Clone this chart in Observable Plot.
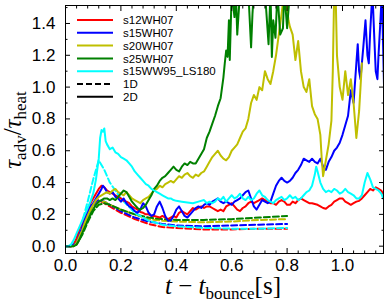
<!DOCTYPE html>
<html><head><meta charset="utf-8">
<script src="https://cdn.jsdelivr.net/npm/d3@7"></script>
<script src="https://cdn.jsdelivr.net/npm/@observablehq/plot@0.6"></script>
<style>body{margin:0;background:#fff}#chart{width:390px;height:307px}</style>
</head><body><div id="chart"></div>
<script>
// ---- data ----
const seriesNames = ["s12WH07","s15WH07","s20WH07","s25WH07","s15WW95_LS180"];
const seriesColors = ["#ff0000","#0000ff","#bfbf00","#008000","#00ffff"];
const dimLabels = ["1D","2D"];

// 1D (dashed) runs, shared time grid
const t1D = [0,0.02,0.04,0.06,0.08,0.10,0.12,0.14,0.16,0.20,0.25,0.30,0.35,0.40,0.50,0.60,0.70,0.80];
const s12WH07_1D = [0,0,0.03,0.12,0.20,0.26,0.29,0.27,0.25,0.21,0.17,0.14,0.12,0.115,0.105,0.105,0.11,0.11];
const s15WH07_1D = [0,0,0.02,0.10,0.18,0.25,0.29,0.28,0.26,0.22,0.18,0.155,0.14,0.13,0.125,0.13,0.135,0.14];
const s20WH07_1D = [0,0,0.02,0.09,0.17,0.24,0.28,0.28,0.26,0.23,0.20,0.17,0.16,0.155,0.15,0.155,0.165,0.17];
const s25WH07_1D = [0,0,0.01,0.07,0.15,0.22,0.26,0.27,0.26,0.23,0.20,0.18,0.17,0.165,0.165,0.17,0.18,0.19];
const s15WW95_1D = [0,0,0.04,0.15,0.28,0.42,0.54,0.48,0.40,0.30,0.21,0.16,0.135,0.125,0.115,0.11,0.11,0.115];

// 2D (solid) runs: [t, tau_adv/tau_heat]
const s12WH07_2D = [[0,0],[0.02,0],[0.03,0.01],[0.04,0.05],[0.05,0.11],[0.06,0.14],[0.07,0.19],[0.08,0.23],[0.09,0.27],[0.10,0.30],[0.11,0.33],[0.12,0.36],[0.13,0.38],[0.14,0.37],[0.15,0.35],[0.16,0.34],[0.17,0.33],[0.18,0.32],[0.19,0.31],[0.20,0.30],[0.21,0.285],[0.22,0.28],[0.23,0.27],[0.24,0.25],[0.25,0.24],[0.26,0.23],[0.27,0.215],[0.28,0.21],[0.29,0.20],[0.30,0.20],[0.31,0.19],[0.32,0.19],[0.33,0.185],[0.34,0.18],[0.35,0.19],[0.36,0.18],[0.37,0.17],[0.38,0.18],[0.39,0.19],[0.40,0.18],[0.41,0.21],[0.42,0.22],[0.43,0.21],[0.44,0.20],[0.45,0.22],[0.46,0.24],[0.47,0.23],[0.48,0.24],[0.49,0.25],[0.50,0.24],[0.51,0.25],[0.52,0.25],[0.53,0.24],[0.54,0.23],[0.55,0.22],[0.56,0.23],[0.57,0.22],[0.58,0.25],[0.59,0.26],[0.60,0.27],[0.61,0.25],[0.62,0.23],[0.63,0.22],[0.64,0.24],[0.65,0.25],[0.66,0.27],[0.67,0.28],[0.68,0.27],[0.69,0.28],[0.70,0.29],[0.71,0.30],[0.72,0.29],[0.73,0.28],[0.74,0.27],[0.75,0.27],[0.76,0.26],[0.77,0.28],[0.78,0.29],[0.79,0.28],[0.80,0.26],[0.81,0.26],[0.82,0.28],[0.83,0.27],[0.84,0.29],[0.85,0.30],[0.86,0.29],[0.87,0.28],[0.88,0.27],[0.89,0.27],[0.90,0.265],[0.91,0.26],[0.92,0.25],[0.93,0.24],[0.94,0.235],[0.95,0.25],[0.96,0.26],[0.97,0.28],[0.98,0.29],[0.99,0.30],[1.00,0.30],[1.01,0.28],[1.02,0.27],[1.03,0.26],[1.04,0.27],[1.05,0.28],[1.06,0.285],[1.07,0.30],[1.08,0.32],[1.09,0.34],[1.10,0.36],[1.11,0.35],[1.12,0.37],[1.13,0.36],[1.14,0.35],[1.15,0.32]];
const s15WH07_2D = [[0,0],[0.02,0],[0.04,0.02],[0.05,0.07],[0.06,0.12],[0.07,0.17],[0.08,0.21],[0.09,0.25],[0.10,0.27],[0.11,0.30],[0.12,0.33],[0.13,0.36],[0.135,0.38],[0.14,0.37],[0.15,0.34],[0.16,0.33],[0.17,0.34],[0.18,0.31],[0.19,0.30],[0.20,0.28],[0.21,0.30],[0.22,0.27],[0.23,0.25],[0.24,0.24],[0.25,0.22],[0.26,0.21],[0.27,0.23],[0.28,0.27],[0.29,0.25],[0.30,0.21],[0.31,0.19],[0.32,0.20],[0.33,0.25],[0.34,0.28],[0.35,0.24],[0.36,0.19],[0.37,0.16],[0.38,0.16],[0.39,0.19],[0.40,0.23],[0.41,0.25],[0.42,0.22],[0.43,0.19],[0.44,0.18],[0.45,0.20],[0.46,0.22],[0.47,0.24],[0.48,0.25],[0.49,0.24],[0.50,0.26],[0.51,0.27],[0.52,0.26],[0.53,0.28],[0.54,0.29],[0.55,0.30],[0.56,0.28],[0.57,0.27],[0.58,0.28],[0.59,0.27],[0.60,0.26],[0.61,0.28],[0.62,0.29],[0.63,0.30],[0.64,0.32],[0.65,0.34],[0.66,0.35],[0.67,0.30],[0.68,0.25],[0.69,0.23],[0.70,0.26],[0.71,0.29],[0.72,0.28],[0.73,0.27],[0.74,0.28],[0.75,0.33],[0.76,0.38],[0.77,0.41],[0.78,0.43],[0.79,0.41],[0.80,0.40],[0.81,0.41],[0.82,0.43],[0.83,0.46],[0.84,0.48],[0.85,0.51],[0.86,0.55],[0.87,0.54],[0.88,0.53],[0.89,0.55],[0.90,0.53],[0.91,0.52],[0.92,0.55],[0.93,0.50],[0.94,0.48],[0.95,0.53],[0.96,0.56],[0.97,0.60],[0.98,0.62],[0.99,0.65],[1.00,0.70],[1.01,0.76],[1.02,0.82],[1.03,0.98],[1.04,0.90],[1.05,1.15],[1.055,1.27],[1.06,1.10],[1.065,1.05],[1.075,1.25],[1.083,1.42],[1.09,1.20],[1.095,1.15],[1.10,1.35],[1.108,1.60],[1.115,1.30],[1.12,1.10],[1.126,1.05],[1.13,1.20],[1.137,1.42],[1.142,1.60],[1.146,1.30],[1.15,1.00]];
const s20WH07_2D = [[0,0],[0.03,0],[0.04,0.02],[0.05,0.06],[0.06,0.10],[0.07,0.15],[0.08,0.19],[0.09,0.23],[0.10,0.26],[0.11,0.29],[0.12,0.31],[0.13,0.32],[0.14,0.33],[0.15,0.34],[0.16,0.33],[0.17,0.35],[0.18,0.36],[0.19,0.34],[0.20,0.33],[0.21,0.32],[0.22,0.34],[0.23,0.32],[0.24,0.30],[0.25,0.29],[0.26,0.28],[0.27,0.27],[0.28,0.29],[0.29,0.30],[0.30,0.31],[0.31,0.33],[0.32,0.35],[0.33,0.36],[0.34,0.38],[0.35,0.37],[0.36,0.39],[0.37,0.40],[0.38,0.41],[0.39,0.40],[0.40,0.42],[0.41,0.44],[0.42,0.43],[0.43,0.45],[0.44,0.46],[0.45,0.44],[0.46,0.43],[0.47,0.45],[0.48,0.44],[0.49,0.46],[0.50,0.47],[0.51,0.50],[0.52,0.53],[0.53,0.56],[0.54,0.58],[0.55,0.60],[0.56,0.57],[0.57,0.55],[0.58,0.54],[0.59,0.56],[0.60,0.60],[0.61,0.62],[0.62,0.64],[0.63,0.68],[0.64,0.72],[0.65,0.74],[0.66,0.80],[0.67,0.90],[0.68,0.95],[0.69,0.92],[0.70,1.00],[0.71,0.98],[0.72,1.10],[0.73,1.05],[0.74,1.02],[0.75,1.10],[0.76,1.20],[0.77,1.33],[0.78,1.46],[0.79,1.60],[0.80,1.50],[0.805,1.42],[0.81,1.38],[0.82,1.33],[0.83,1.17],[0.84,1.29],[0.85,1.10],[0.86,1.00],[0.87,0.97],[0.88,1.05],[0.89,0.88],[0.90,0.83],[0.91,0.80],[0.92,0.70],[0.925,0.55],[0.93,0.44],[0.94,0.54],[0.95,0.64],[0.96,0.79],[0.965,1.10],[0.97,1.60],[0.975,1.60],[0.98,1.20],[0.99,1.00],[1.00,0.92],[1.01,1.10],[1.02,0.95],[1.03,1.05],[1.04,0.90],[1.05,0.68],[1.06,0.85],[1.065,1.00],[1.07,1.15]];
const s25WH07_2D = [[0,0],[0.03,0],[0.04,0.01],[0.05,0.04],[0.06,0.08],[0.07,0.12],[0.08,0.16],[0.09,0.20],[0.10,0.23],[0.11,0.26],[0.12,0.28],[0.13,0.29],[0.14,0.30],[0.15,0.30],[0.16,0.29],[0.17,0.30],[0.18,0.29],[0.19,0.31],[0.20,0.33],[0.21,0.35],[0.22,0.34],[0.23,0.31],[0.24,0.28],[0.25,0.26],[0.26,0.24],[0.27,0.23],[0.28,0.24],[0.29,0.26],[0.30,0.29],[0.31,0.32],[0.32,0.36],[0.33,0.38],[0.34,0.41],[0.35,0.43],[0.36,0.44],[0.37,0.46],[0.38,0.48],[0.39,0.50],[0.40,0.48],[0.41,0.47],[0.42,0.50],[0.43,0.52],[0.44,0.51],[0.45,0.53],[0.46,0.52],[0.47,0.52],[0.48,0.55],[0.49,0.58],[0.50,0.61],[0.51,0.68],[0.52,0.72],[0.53,0.77],[0.54,0.82],[0.55,0.88],[0.56,0.93],[0.57,1.06],[0.575,1.15],[0.58,1.23],[0.585,1.19],[0.59,1.42],[0.593,1.17],[0.60,1.60],[0.61,1.44],[0.615,1.60],[0.62,1.33],[0.63,1.60],[0.66,1.60],[0.67,1.25],[0.675,1.46],[0.68,1.60],[0.72,1.60],[0.733,1.27],[0.74,1.60],[0.745,1.19],[0.75,1.42],[0.758,1.31],[0.765,1.60],[0.775,1.33],[0.785,1.37],[0.79,1.60],[0.80,1.37],[0.81,1.60]];
const s15WW95_2D = [[0,0],[0.01,0],[0.02,0.01],[0.03,0.04],[0.04,0.08],[0.05,0.12],[0.06,0.16],[0.07,0.20],[0.08,0.24],[0.09,0.28],[0.10,0.33],[0.11,0.42],[0.12,0.55],[0.125,0.68],[0.13,0.73],[0.135,0.72],[0.14,0.74],[0.145,0.66],[0.15,0.64],[0.16,0.61],[0.17,0.62],[0.18,0.59],[0.19,0.58],[0.20,0.56],[0.21,0.55],[0.22,0.54],[0.23,0.52],[0.24,0.50],[0.25,0.47],[0.26,0.45],[0.27,0.43],[0.28,0.41],[0.29,0.39],[0.30,0.38],[0.31,0.36],[0.32,0.35],[0.33,0.34],[0.34,0.33],[0.35,0.32],[0.36,0.31],[0.37,0.30],[0.38,0.30],[0.39,0.29],[0.40,0.285],[0.42,0.28],[0.44,0.275],[0.46,0.27],[0.48,0.28],[0.50,0.29],[0.51,0.27],[0.52,0.28],[0.53,0.27],[0.54,0.28],[0.55,0.30],[0.56,0.29],[0.57,0.31],[0.58,0.28],[0.59,0.30],[0.60,0.32],[0.61,0.30],[0.62,0.31],[0.63,0.33],[0.64,0.30],[0.65,0.29],[0.66,0.31],[0.67,0.29],[0.68,0.30],[0.69,0.33],[0.70,0.35],[0.71,0.32],[0.72,0.31],[0.73,0.29],[0.74,0.28],[0.75,0.27],[0.76,0.29],[0.77,0.30],[0.78,0.31],[0.79,0.29],[0.80,0.30],[0.81,0.32],[0.82,0.30],[0.83,0.31],[0.84,0.29],[0.85,0.30],[0.86,0.32],[0.87,0.34],[0.88,0.35],[0.89,0.38],[0.90,0.45],[0.905,0.50],[0.91,0.47],[0.92,0.40],[0.93,0.36],[0.94,0.34],[0.95,0.35],[0.96,0.34],[0.97,0.36],[0.98,0.35],[0.99,0.33],[1.00,0.34],[1.01,0.36],[1.02,0.34],[1.03,0.33],[1.04,0.32],[1.05,0.30],[1.06,0.30],[1.07,0.32],[1.08,0.40],[1.09,0.46],[1.10,0.42],[1.11,0.37],[1.12,0.36],[1.13,0.35],[1.14,0.33],[1.15,0.29]];

const xMajorTicks = [0, 0.2, 0.4, 0.6, 0.8, 1.0];
const xMinorTicks = [0.04,0.08,0.12,0.16,0.24,0.28,0.32,0.36,0.44,0.48,0.52,0.56,0.64,0.68,0.72,0.76,0.84,0.88,0.92,0.96,1.04,1.08,1.12];
const yMajorTicks = [0, 0.2, 0.4, 0.6, 0.8, 1.0, 1.2, 1.4];
const yMinorTicks = [0.1, 0.3, 0.5, 0.7, 0.9, 1.1, 1.3, 1.5];

// ---- build tables ----
const oneD = [s12WH07_1D, s15WH07_1D, s20WH07_1D, s25WH07_1D, s15WW95_1D];
const twoD = [s12WH07_2D, s15WH07_2D, s20WH07_2D, s25WH07_2D, s15WW95_2D];
const rows1D = [], rows2D = [];
oneD.forEach((vals, i) => vals.forEach((v, j) => rows1D.push({t: t1D[j], v, series: seriesNames[i]})));
twoD.forEach((pts, i) => pts.forEach(([t, v]) => rows2D.push({t, v, series: seriesNames[i]})));

const blank = () => "";
const plot = Plot.plot({
  width: 390, height: 307,
  marginLeft: 65, marginRight: 7, marginTop: 5, marginBottom: 54,
  style: {fontFamily: "'Liberation Sans', Arial, sans-serif", fontSize: "16px", background: "white", color: "black"},
  x: {domain: [0, 1.148], label: null},
  y: {domain: [-0.046, 1.513], label: null},
  color: {domain: seriesNames, range: seriesColors},
  marks: [
    Plot.line(rows1D, {x: "t", y: "v", z: "series", stroke: "series", strokeWidth: 2, strokeDasharray: "6,3", clip: true}),
    Plot.line(rows2D, {x: "t", y: "v", z: "series", stroke: "series", strokeWidth: 2, clip: true}),
    Plot.frame({stroke: "black", strokeWidth: 1}),
    Plot.axisX({anchor: "bottom", ticks: xMajorTicks, tickSize: 0, tickPadding: 5, tickFormat: d3.format(".1f"), fontSize: 17, label: null}),
    Plot.axisY({anchor: "left", ticks: yMajorTicks, tickSize: 0, tickPadding: 10, tickFormat: d3.format(".1f"), fontSize: 17, label: null}),
    Plot.axisX({anchor: "bottom", ticks: xMajorTicks, tickSize: -5, tickFormat: blank, label: null}),
    Plot.axisX({anchor: "top", ticks: xMajorTicks, tickSize: -5, tickFormat: blank, label: null}),
    Plot.axisX({anchor: "bottom", ticks: xMinorTicks, tickSize: -2.5, tickFormat: blank, label: null}),
    Plot.axisX({anchor: "top", ticks: xMinorTicks, tickSize: -2.5, tickFormat: blank, label: null}),
    Plot.axisY({anchor: "left", ticks: yMajorTicks, tickSize: -5, tickFormat: blank, label: null}),
    Plot.axisY({anchor: "right", ticks: yMajorTicks, tickSize: -5, tickFormat: blank, label: null}),
    Plot.axisY({anchor: "left", ticks: yMinorTicks, tickSize: -2.5, tickFormat: blank, label: null}),
    Plot.axisY({anchor: "right", ticks: yMinorTicks, tickSize: -2.5, tickFormat: blank, label: null})
  ]
});
document.getElementById("chart").appendChild(plot);

// ---- legend (upper left, inside the frame) ----
const svg = d3.select(plot);
const legendItems = seriesNames.map((s, i) => ({label: s, color: seriesColors[i], dash: null}))
  .concat([{label: dimLabels[0], color: "black", dash: "6,3"}, {label: dimLabels[1], color: "black", dash: null}]);
const lg = svg.append("g").attr("font-family", "'Liberation Sans', Arial, sans-serif").attr("font-size", 11.5)
  .attr("text-anchor", "start");
legendItems.forEach((it, i) => {
  const y = 20 + i * 12.8;
  lg.append("line").attr("x1", 77).attr("x2", 113).attr("y1", y).attr("y2", y)
    .attr("stroke", it.color).attr("stroke-width", 2).attr("stroke-dasharray", it.dash);
  lg.append("text").attr("x", 123).attr("y", y).attr("dy", "0.36em").attr("text-anchor", "start")
    .attr("fill", "black").text(it.label);
});

// ---- axis titles ----
const serif = "'Liberation Serif', 'Times New Roman', serif";
const yl = svg.append("text").attr("transform", "translate(21,130) rotate(-90)")
  .attr("text-anchor", "middle").attr("font-family", serif).attr("font-size", 25).attr("fill", "black");
yl.append("tspan").attr("font-style", "italic").text("τ");
yl.append("tspan").attr("font-size", 17).attr("dy", 5).text("adv");
yl.append("tspan").attr("dy", -5).text("/");
yl.append("tspan").attr("font-style", "italic").text("τ");
yl.append("tspan").attr("font-size", 17).attr("dy", 5).text("heat");

const xl = svg.append("text").attr("x", 223).attr("y", 294)
  .attr("text-anchor", "middle").attr("font-family", serif).attr("font-size", 25).attr("fill", "black");
xl.append("tspan").attr("font-style", "italic").text("t");
xl.append("tspan").text(" − ");
xl.append("tspan").attr("font-style", "italic").text("t");
xl.append("tspan").attr("font-size", 17).attr("dy", 5).text("bounce");
xl.append("tspan").attr("dy", -5).text("[s]");
</script>
</body></html>
